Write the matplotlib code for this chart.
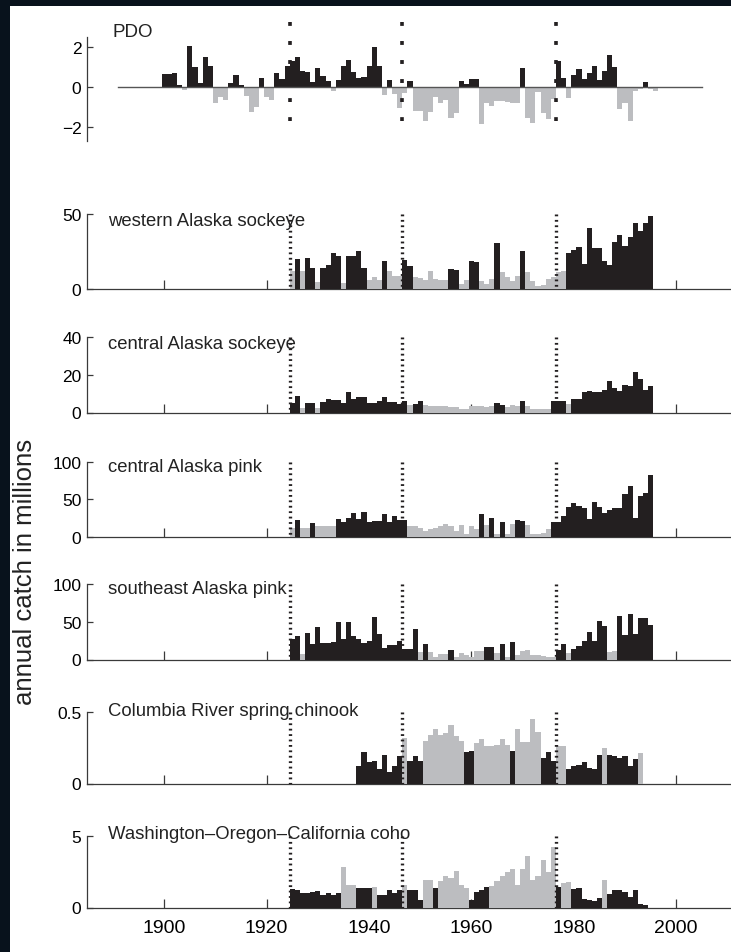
import matplotlib
matplotlib.use("Agg")
import matplotlib.pyplot as plt
from matplotlib.patches import Rectangle

plt.rcParams['font.family'] = ['Liberation Sans', 'DejaVu Sans']
plt.rcParams['lines.scale_dashes'] = False

DARK = '#231f20'
GREY = '#bcbdc0'
AXC = '#3a3a3a'

# ---- data ----
regime_years = [1924.5, 1946.5, 1976.5]
year_ticks = [1900, 1920, 1940, 1960, 1980, 2000]

pdo_start = 1900
pdo = [0.64, 0.64, 0.7, 0.1, -0.13, 2.05, 1.0, 0.2, 1.5, 1.05,
       -0.8, -0.5, -0.62, 0.2, 0.58, 0.1, -0.45, -1.26, -1.0, 0.45,
       -0.5, -0.62, 0.7, 0.4, 1.05, 1.3, 1.5, 0.8, 0.73, 0.25,
       0.95, 0.55, 0.3, -0.2, 0.37, 1.05, 1.35, 0.72, 0.45, 0.5,
       1.05, 2.0, 1.05, -0.4, 0.37, -0.35, -1.05, -0.3, 0.3, -1.2,
       -1.2, -1.7, -1.23, -0.5, -0.8, -0.65, -1.55, -1.3, 0.3, 0.15,
       0.4, 0.42, -1.85, -0.8, -0.95, -0.7, -0.7, -0.75, -0.8, -0.8,
       0.93, -1.55, -1.8, -0.25, -1.3, -1.6, -0.6, 1.3, 0.45, -0.55,
       0.58, 0.88, 0.4, 0.7, 1.05, 0.37, 0.77, 1.57, 1.0, -1.07,
       -0.8, -1.66, -0.2, -0.1, 0.25, -0.1, -0.2]

was_start = 1925
was = [12, 19.7, 12, 20.4, 13.5, 4.5, 13.5, 15.7, 23.5, 21.5,
       3.6, 21.5, 22, 25.3, 13.7, 5.6, 7.4, 5.8, 18.4, 11.9,
       8.1, 8.5, 19, 14.8, 7.4, 7.0, 5.6, 11.7, 6.7, 5.6,
       5.8, 13, 12.3, 2.9, 5.6, 18.2, 17.5, 5.2, 2.9, 6.3,
       30.5, 10.8, 7.4, 5.2, 8.1, 25.3, 11.2, 5.2, 1.8, 2.2,
       6.3, 7.4, 11.2, 11.8, 23.8, 26, 28, 16.4, 40.4, 26.9,
       26.9, 18.6, 15.7, 31.4, 36, 28.7, 34.3, 43.7, 38.3, 44, 48.4]
was_col = ("gkgkkgkkkk" "gkkkkgggkg" "ggkkgggggg" "gkkggkkggg"
           "kggggkgggg" "ggggkkkkkk" "kkkkkkkkkkk")

cas_start = 1925
cas = [5.0, 8.9, 2.5, 5, 5, 2.5, 5.7, 7.4, 6.7, 6.7,
       5, 11, 7.1, 8, 8, 5, 5, 6.2, 8, 5.7,
       5.7, 4.4, 6.2, 3.9, 4.4, 6.2, 3.9, 3.5, 3.5, 3.2,
       3.5, 3.0, 2.7, 1.8, 1.8, 3.5, 3.2, 3.2, 2.7, 3.5,
       5, 3.9, 2.7, 3.9, 3.5, 6.2, 3.2, 2.1, 2.1, 2.1,
       2.1, 6.2, 6.2, 6.2, 4.4, 7.1, 7.4, 11, 11.5, 10.6,
       10.6, 12, 16.5, 12.8, 11.5, 14.5, 14.2, 21.3, 17.7, 12, 13.8]
cas_col = ("kkgkkgkkkk" "kkkkkkkkkk" "kkkgkkgggg" "gggggggggg"
           "kkgggkgggg" "gkkkgkkkkk" "kkkkkkkkkkk")

cap_start = 1925
cap = [12, 21.9, 12, 12, 17.9, 13.4, 13.4, 13.4, 13.4, 23.2,
       19.6, 25.4, 31.2, 23.2, 33, 18.8, 21, 21, 30, 18.8,
       26.8, 21.9, 21.9, 13.4, 13.4, 10.7, 7.6, 9.8, 12, 13.4,
       16.5, 13.4, 7.6, 15.2, 4, 13.4, 9.8, 30, 15.2, 24.6,
       4, 18.8, 4, 16.5, 21.9, 21, 15.2, 3.1, 3.1, 4.5,
       9.8, 18.8, 18.8, 26.8, 39.7, 44.6, 41, 37.5, 23.2, 46.4,
       39.7, 31.2, 35.7, 37.5, 37.5, 56.7, 67, 24.6, 53.6, 57.6, 82]
cap_col = ("gkggkggggk" "kkkkkkkkkk" "kkkggggggg" "gggggggkgk"
           "gkggkkgggg" "gkkkkkkkkk" "kkkkkkkkkkk")

sep_start = 1925
sep = [26.8, 31.3, 6.7, 35.7, 20, 43.8, 22.3, 21.4, 23.2, 50,
       26.8, 50, 31.3, 26.8, 21.4, 24.6, 56.7, 33.5, 15.6, 18.8,
       18.8, 24.6, 13.4, 13.4, 40.2, 9.8, 20, 9.8, 3.6, 6.7,
       6.7, 12.5, 3.6, 8.9, 5.4, 3.6, 11.2, 11.2, 17, 17,
       8.9, 21, 3.6, 23.7, 5.4, 11.2, 12, 5.4, 5.4, 4.5,
       3.6, 3.6, 12.5, 20.5, 8.9, 13.4, 17.9, 24.6, 37, 24.6,
       51.3, 44.6, 9.8, 11.2, 58, 32, 61, 33.5, 55.8, 55.8, 46]
sep_col = ("kkgkkkkkkk" "kkkkkkkkkk" "kkkkkgkggg" "gkggggggkk"
           "gkgkgggggg" "ggkkgkkkkk" "kkggkkkkkkk")

crc_start = 1938
crc = [0.12, 0.22, 0.15, 0.16, 0.10, 0.20, 0.08, 0.12, 0.19, 0.32,
       0.16, 0.19, 0.16, 0.30, 0.34, 0.38, 0.34, 0.35, 0.41, 0.33,
       0.30, 0.22, 0.23, 0.28, 0.31, 0.26, 0.26, 0.27, 0.31, 0.27,
       0.23, 0.38, 0.29, 0.29, 0.45, 0.36, 0.18, 0.22, 0.16, 0.26,
       0.26, 0.10, 0.12, 0.13, 0.15, 0.11, 0.10, 0.20, 0.25, 0.20,
       0.19, 0.18, 0.19, 0.12, 0.17, 0.21]
crc_col = ("kkkkkkkkkg" "kkkggggggg" "gkkggggggg" "kgggggkkkg"
           "gkkkkkkkgk" "kkkkkg")

woc_start = 1925
woc = [1.3, 1.2, 1.0, 1.0, 1.1, 1.15, 0.9, 1.0, 0.85, 1.0,
       2.8, 1.6, 1.6, 1.35, 1.35, 1.35, 1.4, 0.85, 0.9, 1.2,
       1.0, 1.2, 1.55, 1.25, 1.2, 0.55, 1.9, 1.9, 1.35, 1.85,
       2.2, 2.05, 2.55, 1.6, 1.35, 0.5, 1.1, 1.2, 1.45, 1.5,
       1.85, 2.2, 2.5, 2.7, 1.55, 2.7, 3.6, 1.9, 2.2, 3.3,
       2.5, 4.2, 1.45, 1.7, 1.8, 1.3, 1.35, 0.6, 0.5, 0.45,
       0.65, 1.9, 0.95, 1.25, 1.2, 1.1, 0.7, 1.25, 0.25, 0.2]
woc_col = ("kkkkkkkkkk" "gggkkkgkkk" "kkgkkkggkg" "gggggkkkkg"
           "gggggggggg" "ggkggkkkkk" "kgkkkkkkkk")

panels = [
    # label, start, values, colours, ymax, ticks, ticklabels, top px, bottom px, label top px
    ('western Alaska sockeye', was_start, was, was_col, 50, [0, 50], ['0', '50'], 215, 289.5, 213),
    ('central Alaska sockeye', cas_start, cas, cas_col, 40, [0, 20, 40], ['0', '20', '40'], 338, 413.5, 336),
    ('central Alaska pink', cap_start, cap, cap_col, 100, [0, 50, 100], ['0', '50', '100'], 462.7, 537.5, 459),
    ('southeast Alaska pink', sep_start, sep, sep_col, 100, [0, 50, 100], ['0', '50', '100'], 585.3, 660.5, 581),
    ('Columbia River spring chinook', crc_start, crc, crc_col, 0.5, [0, 0.5], ['0', '0.5'], 713, 784.5, 703),
    ('Washington\u2013Oregon\u2013California coho', woc_start, woc, woc_col, 5, [0, 5], ['0', '5'], 836.7, 908.5, 826),
]

W, H = 731, 953
X0, X1 = 1884.9, 2010.7
LEFT = 87

fig = plt.figure(figsize=(W / 100, H / 100), dpi=100, facecolor='#08121c')
fig.patches.append(Rectangle((10 / W, 0), 1, 1 - 7 / H, transform=fig.transFigure,
                             facecolor='white', edgecolor='none', zorder=-10))


def add_px_axes(top, bottom):
    return fig.add_axes([LEFT / W, 1 - bottom / H, (W - LEFT) / W, (bottom - top) / H])


def style_axes(ax):
    ax.set_facecolor('none')
    ax.spines['top'].set_visible(False)
    ax.spines['right'].set_visible(False)
    for s in ('left', 'bottom'):
        ax.spines[s].set_color(AXC)
        ax.spines[s].set_linewidth(0.9)
    ax.tick_params(axis='y', direction='in', length=4, width=0.9, color=AXC,
                   labelsize=12.5, pad=4)
    ax.tick_params(axis='x', direction='in', length=6.5, width=0.9, color=AXC,
                   labelsize=14, pad=8)
    ax.set_xlim(X0, X1)
    ax.set_xticks(year_ticks)


# ---- PDO panel ----
ax = add_px_axes(20, 141.7)
style_axes(ax)
pdo_years = [pdo_start + i for i in range(len(pdo))]
pdo_cols = [DARK if v > 0 else GREY for v in pdo]
ax.bar(pdo_years, pdo, width=1.0, color=pdo_cols, linewidth=0, zorder=3)
ax.plot([1891, 2005], [0, 0], color='#555555', lw=1.0, zorder=4)
ax.set_ylim(-2.66, 3.37)
ax.spines['left'].set_bounds(-2.66, 2.48)
ax.spines['bottom'].set_visible(False)
ax.set_yticks([-2, 0, 2])
ax.set_yticklabels(['\u22122', '0', '2'])
ax.tick_params(axis='x', bottom=False, labelbottom=False)
for yr in regime_years:
    ax.plot([yr, yr], [3.23, -1.7], color=DARK, lw=2.6,
            linestyle=(0, (2.8, 10.9)), dash_capstyle='butt', zorder=5, clip_on=False)
fig.text(112 / W, 1 - 24 / H, 'PDO', ha='left', va='top', fontsize=13.5, color='#222222')

# ---- catch panels ----
for i, (label, start, vals, cols, ymax, yt, ytl, top, bottom, ltop) in enumerate(panels):
    ax = add_px_axes(top, bottom)
    style_axes(ax)
    years = [start + k for k in range(len(vals))]
    colors = [DARK if c == 'k' else GREY for c in cols]
    ax.bar(years, vals, width=1.0, color=colors, linewidth=0, zorder=3)
    ax.set_ylim(0, ymax)
    ax.set_yticks(yt)
    ax.set_yticklabels(ytl)
    for yr in regime_years:
        ax.plot([yr, yr], [ymax, 0], color=DARK, lw=2.4,
                linestyle=(0, (1.3, 2.6)), dash_capstyle='butt', zorder=5)
    if i < len(panels) - 1:
        ax.tick_params(axis='x', labelbottom=False)
    fig.text(108 / W, 1 - ltop / H, label, ha='left', va='top', fontsize=13.3, color='#222222')

fig.text(25 / W, 1 - 572 / H, 'annual catch in millions', rotation=90,
         ha='center', va='center', fontsize=18.5, color='#222222')

fig.savefig('out.png', dpi=100, facecolor=fig.get_facecolor())
